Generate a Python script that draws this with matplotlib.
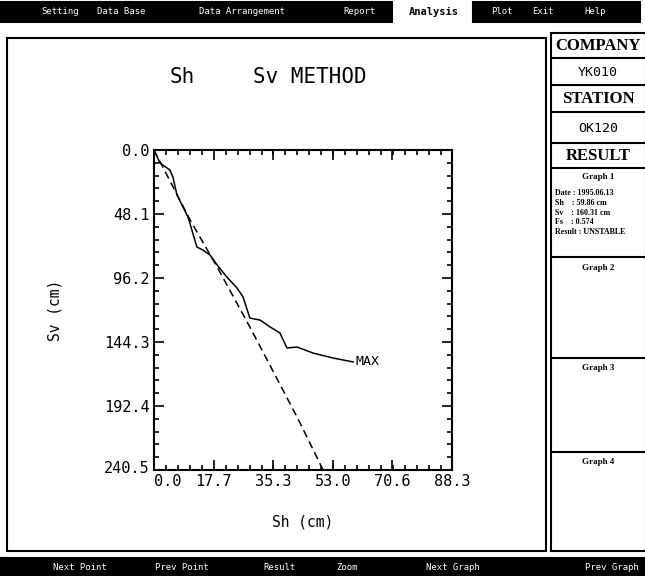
#!/usr/bin/env python3
import numpy as np
import matplotlib
matplotlib.use("Agg")
import matplotlib.pyplot as plt
import matplotlib.transforms as mtransforms
from matplotlib.patches import Rectangle
from matplotlib.ticker import AutoMinorLocator

# ---- data ----
X_TICKS = [0.0, 17.7, 35.3, 53.0, 70.6, 88.3]
Y_TICKS = [0.0, 48.1, 96.2, 144.3, 192.4, 240.5]

# measured curve (MAX)
sh_max = [0.0, 1.8, 4.7, 5.6, 6.8, 10.1, 12.7, 14.5, 16.6, 18.7, 21.6, 24.6,
          26.4, 28.4, 31.4, 34.4, 37.3, 39.4, 42.4, 47.1, 53.0, 59.0]
sv_max = [0.0, 9.8, 15.0, 20.3, 33.8, 50.4, 72.9, 75.2, 78.9, 86.4, 95.5, 103.7,
          110.5, 126.3, 127.8, 133.0, 137.5, 148.8, 148.1, 152.6, 156.3, 159.3]

# reference (dashed) line
sh_ref = [0.0, 10.7, 18.7, 28.4, 42.4, 50.1]
sv_ref = [0.0, 52.6, 87.9, 133.0, 200.7, 240.5]

MENU_TOP = ["Setting", "Data Base", "Data Arrangement", "Report"]
MENU_TOP_X = [60, 121, 242, 360]
MENU_RIGHT = ["Plot", "Exit", "Help"]
MENU_RIGHT_X = [502, 543, 595]
MENU_BOTTOM = ["Next Point", "Prev Point", "Result", "Zoom", "Next Graph", "Prev Graph"]
MENU_BOTTOM_X = [80, 182, 280, 347, 453, 612]

RESULT_LINES = ["Date : 1995.06.13", "Sh    : 59.86 cm", "Sv    : 160.31 cm",
                "Fs    : 0.574", "Result : UNSTABLE"]

MONO = "DejaVu Sans Mono"
SERIF = "Liberation Serif"

fig = plt.figure(figsize=(6.45, 5.76), dpi=100)
fig.patch.set_facecolor("white")

# background layer in pixel coordinates
bg = fig.add_axes([0, 0, 1, 1])
bg.set_xlim(0, 645)
bg.set_ylim(576, 0)
bg.axis("off")

def box(x0, y0, x1, y1, fc="none", lw=1.5):
    bg.add_patch(Rectangle((x0, y0), x1 - x0, y1 - y0, facecolor=fc,
                           edgecolor="black", lw=lw))

# top menu bar
box(0, 2, 392, 22, fc="black")
box(473, 2, 640, 22, fc="black")
for t, x in zip(MENU_TOP, MENU_TOP_X):
    bg.text(x, 12, t, color="white", ha="center", va="center", fontsize=6.5, family=MONO)
for t, x in zip(MENU_RIGHT, MENU_RIGHT_X):
    bg.text(x, 12, t, color="white", ha="center", va="center", fontsize=6.5, family=MONO)
bg.text(434, 12, "Analysis", color="black", ha="center", va="center",
        fontsize=7.5, family=MONO, weight="bold")

# bottom menu bar
box(0, 558, 645, 576, fc="black")
for t, x in zip(MENU_BOTTOM, MENU_BOTTOM_X):
    bg.text(x, 567, t, color="white", ha="center", va="center", fontsize=6.5, family=MONO)

# main frame
box(7, 38, 546, 551, lw=1.5)
box(551, 33, 646, 551, lw=1.5)

# side panel rows
for y in [58, 85, 112, 143, 168, 257, 358, 452]:
    bg.plot([551, 645], [y, y], color="black", lw=1.5)
bg.text(598, 46, "COMPANY", ha="center", va="center", fontsize=12, family=SERIF, weight="bold")
bg.text(598, 73, "YK010", ha="center", va="center", fontsize=9.5, family=MONO)
bg.text(598, 99, "STATION", ha="center", va="center", fontsize=12, family=SERIF, weight="bold")
bg.text(598, 128, "OK120", ha="center", va="center", fontsize=9.5, family=MONO)
bg.text(598, 156, "RESULT", ha="center", va="center", fontsize=12, family=SERIF, weight="bold")

bg.text(598, 177, "Graph 1", ha="center", va="center", fontsize=6.5, family=SERIF, weight="bold")
for i, line in enumerate(RESULT_LINES):
    bg.text(555, 193 + i * 9.8, line, ha="left", va="center", fontsize=5.8,
            family=SERIF, weight="bold")
bg.text(598, 268, "Graph 2", ha="center", va="center", fontsize=6.5, family=SERIF, weight="bold")
bg.text(598, 368, "Graph 3", ha="center", va="center", fontsize=6.5, family=SERIF, weight="bold")
bg.text(598, 462, "Graph 4", ha="center", va="center", fontsize=6.5, family=SERIF, weight="bold")

# title
bg.text(170, 77, "Sh", ha="left", va="center", fontsize=15, family=MONO)
bg.text(310, 77, "Sv METHOD", ha="center", va="center", fontsize=15, family=MONO)

# ---- the plot ----
ax = fig.add_axes([154 / 645, 1 - 470 / 576, 298 / 645, 320 / 576])
ax.plot(sh_max, sv_max, color="black", lw=1.1)
ax.plot(sh_ref, sv_ref, color="black", lw=1.1, dashes=(5, 3))
ax.text(sh_max[-1] + 0.6, sv_max[-1], "MAX", ha="left", va="center",
        fontsize=9.5, family=MONO)

ax.set_xlim(X_TICKS[0], X_TICKS[-1])
ax.set_ylim(Y_TICKS[-1], Y_TICKS[0])
ax.set_xticks(X_TICKS)
ax.set_yticks(Y_TICKS)
ax.set_xticklabels([f"{v:.1f}" for v in X_TICKS], family=MONO, fontsize=11)
ax.set_yticklabels([f"{v:.1f}" for v in Y_TICKS], family=MONO, fontsize=11)
ax.xaxis.set_minor_locator(AutoMinorLocator(5))
ax.yaxis.set_minor_locator(AutoMinorLocator(5))
ax.tick_params(which="both", direction="in", top=True, right=True, width=1.2)
ax.tick_params(which="major", length=7, pad=3)
ax.tick_params(which="minor", length=3.5)
for s in ax.spines.values():
    s.set_linewidth(1.5)

# first x label sits just right of the corner, last y label a bit up
first_x = ax.get_xticklabels()[0]
first_x.set_horizontalalignment("left")
last_y = ax.get_yticklabels()[-1]
last_y.set_transform(last_y.get_transform() +
                     mtransforms.ScaledTranslation(0, 3 / 100, fig.dpi_scale_trans))

ax.set_xlabel("Sh (cm)", family=MONO, fontsize=10.5, labelpad=18)
ax.set_ylabel("Sv (cm)", family=MONO, fontsize=10.5, labelpad=30)

fig.savefig("out.png", dpi=100)
